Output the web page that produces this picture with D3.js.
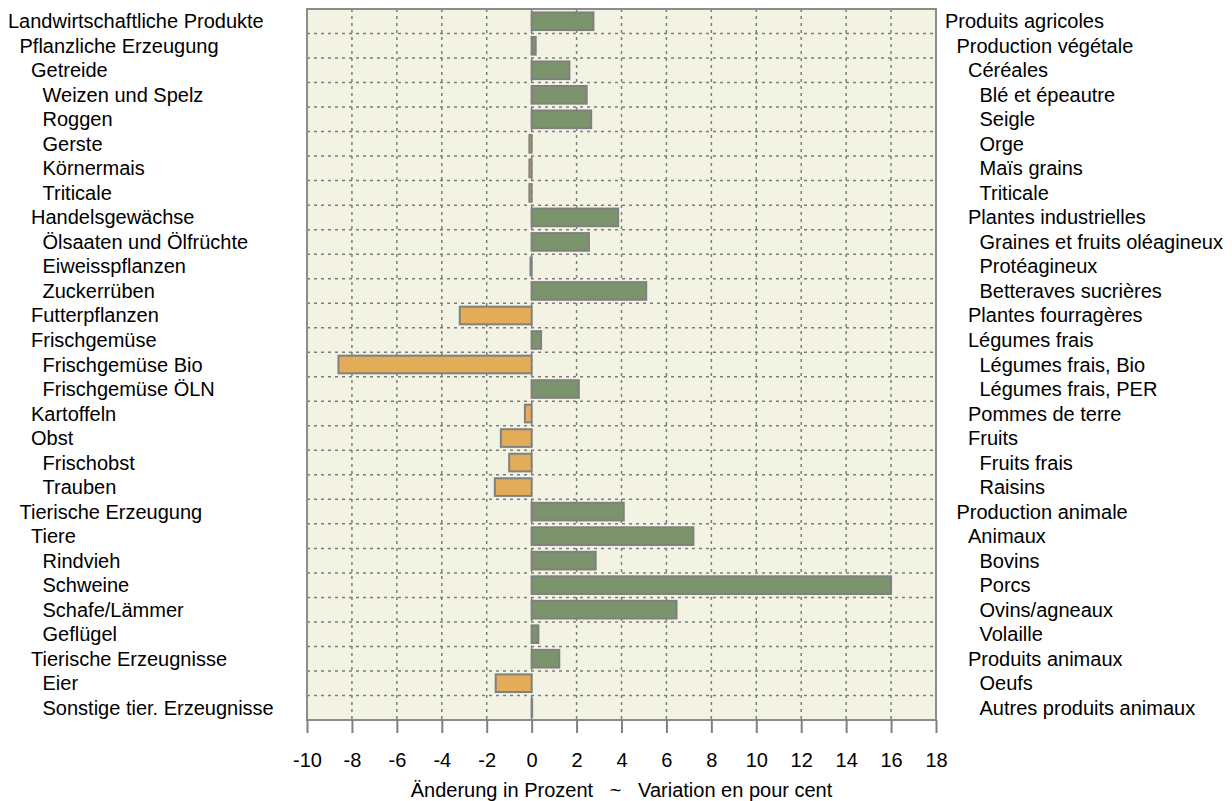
<!DOCTYPE html>
<html>
<head>
<meta charset="utf-8">
<script src="https://cdn.jsdelivr.net/npm/d3@7"></script>
<style>
  body { margin: 0; background: #fff; }
  text { font-family: "Liberation Sans", Arial, sans-serif; fill: #000; }
</style>
</head>
<body>
<div id="chart"></div>
<script>
// labels (German / French), indentation level, change in percent
const labelsDe = ["Landwirtschaftliche Produkte", "Pflanzliche Erzeugung", "Getreide", "Weizen und Spelz", "Roggen",
  "Gerste", "Körnermais", "Triticale", "Handelsgewächse", "Ölsaaten und Ölfrüchte", "Eiweisspflanzen",
  "Zuckerrüben", "Futterpflanzen", "Frischgemüse", "Frischgemüse Bio", "Frischgemüse ÖLN", "Kartoffeln",
  "Obst", "Frischobst", "Trauben", "Tierische Erzeugung", "Tiere", "Rindvieh", "Schweine", "Schafe/Lämmer",
  "Geflügel", "Tierische Erzeugnisse", "Eier", "Sonstige tier. Erzeugnisse"];
const labelsFr = ["Produits agricoles", "Production végétale", "Céréales", "Blé et épeautre", "Seigle",
  "Orge", "Maïs grains", "Triticale", "Plantes industrielles", "Graines et fruits oléagineux", "Protéagineux",
  "Betteraves sucrières", "Plantes fourragères", "Légumes frais", "Légumes frais, Bio", "Légumes frais, PER",
  "Pommes de terre", "Fruits", "Fruits frais", "Raisins", "Production animale", "Animaux", "Bovins", "Porcs",
  "Ovins/agneaux", "Volaille", "Produits animaux", "Oeufs", "Autres produits animaux"];
const levels = [0, 1, 2, 3, 3, 3, 3, 3, 2, 3, 3, 3, 2, 2, 3, 3, 2, 2, 3, 3, 1, 2, 3, 3, 3, 3, 2, 3, 3];
const values = [2.75, 0.18, 1.68, 2.45, 2.65, -0.1, -0.1, -0.1, 3.85, 2.55, -0.05, 5.1, -3.2, 0.42, -8.6, 2.1,
  -0.3, -1.37, -1.0, -1.64, 4.1, 7.2, 2.85, 16.0, 6.45, 0.3, 1.23, -1.6, 0];
const xTicks = d3.range(-10, 19, 2);

const config = {
  width: 1232, height: 801,
  margin: {top: 9, right: 296, bottom: 81, left: 307},
  indent: 11.5,
  fontSize: '20px'
};

const svg = d3.select('#chart').append('svg')
  .attr('width', config.width)
  .attr('height', config.height);

const innerW = config.width - config.margin.left - config.margin.right;
const innerH = config.height - config.margin.top - config.margin.bottom;

const x = d3.scaleLinear().domain([-10, 18]).range([config.margin.left, config.margin.left + innerW]);
const y = d3.scaleBand().domain(d3.range(values.length))
  .range([config.margin.top, config.margin.top + innerH]).paddingInner(0.28).paddingOuter(0.14);

// plot background
svg.append('rect')
  .attr('x', x(-10)).attr('y', config.margin.top)
  .attr('width', innerW).attr('height', innerH)
  .attr('fill', '#f3f3e3');

// vertical grid
svg.append('g').selectAll('line').data(xTicks.filter(d => d > -10 && d < 18)).join('line')
  .attr('x1', d => x(d)).attr('x2', d => x(d))
  .attr('y1', config.margin.top).attr('y2', config.margin.top + innerH)
  .attr('stroke', '#7c7c7c').attr('stroke-width', 1.5).attr('stroke-dasharray', '3,4');

// horizontal grid between rows
svg.append('g').selectAll('line').data(d3.range(1, values.length)).join('line')
  .attr('x1', x(-10)).attr('x2', x(18))
  .attr('y1', d => config.margin.top + d * innerH / values.length)
  .attr('y2', d => config.margin.top + d * innerH / values.length)
  .attr('stroke', '#7c7c7c').attr('stroke-width', 1.5).attr('stroke-dasharray', '3,4');

// bars
svg.append('g').selectAll('rect').data(values).join('rect')
  .attr('x', d => x(Math.min(0, d)))
  .attr('y', (d, i) => y(i))
  .attr('width', d => Math.max(0.5, Math.abs(x(d) - x(0))))
  .attr('height', y.bandwidth())
  .attr('fill', d => d >= 0 ? '#7b946b' : '#e2ac58')
  .attr('stroke', '#808080')
  .attr('stroke-width', 2);

// frame
svg.append('rect')
  .attr('x', x(-10)).attr('y', config.margin.top)
  .attr('width', innerW).attr('height', innerH)
  .attr('fill', 'none').attr('stroke', '#8c8c8c').attr('stroke-width', 2);

// x axis
const xAxis = svg.append('g')
  .attr('transform', `translate(0, ${config.margin.top + innerH})`)
  .call(d3.axisBottom(x).tickValues(xTicks).tickSize(13).tickPadding(20).tickFormat(d => String(d)));
xAxis.select('.domain').remove();
xAxis.selectAll('line').attr('stroke', '#808080').attr('stroke-width', 2);
xAxis.selectAll('text').style('font-size', config.fontSize).attr('fill', '#000')
  .style('font-family', '"Liberation Sans", Arial, sans-serif');

svg.append('text')
  .attr('x', x(4)).attr('y', 797)
  .attr('text-anchor', 'middle')
  .style('font-size', config.fontSize)
  .attr('xml:space', 'preserve')
  .text('Änderung in Prozent   ~   Variation en pour cent');

// row labels
const rowY = i => config.margin.top + (i + 0.5) * innerH / values.length;

svg.append('g').selectAll('text').data(labelsDe).join('text')
  .attr('x', (d, i) => 8 + levels[i] * config.indent)
  .attr('y', (d, i) => rowY(i))
  .attr('dy', '0.35em')
  .style('font-size', config.fontSize)
  .text(d => d);

svg.append('g').selectAll('text').data(labelsFr).join('text')
  .attr('x', (d, i) => 945 + levels[i] * config.indent)
  .attr('y', (d, i) => rowY(i))
  .attr('dy', '0.35em')
  .style('font-size', config.fontSize)
  .text(d => d);
</script>
</body>
</html>
